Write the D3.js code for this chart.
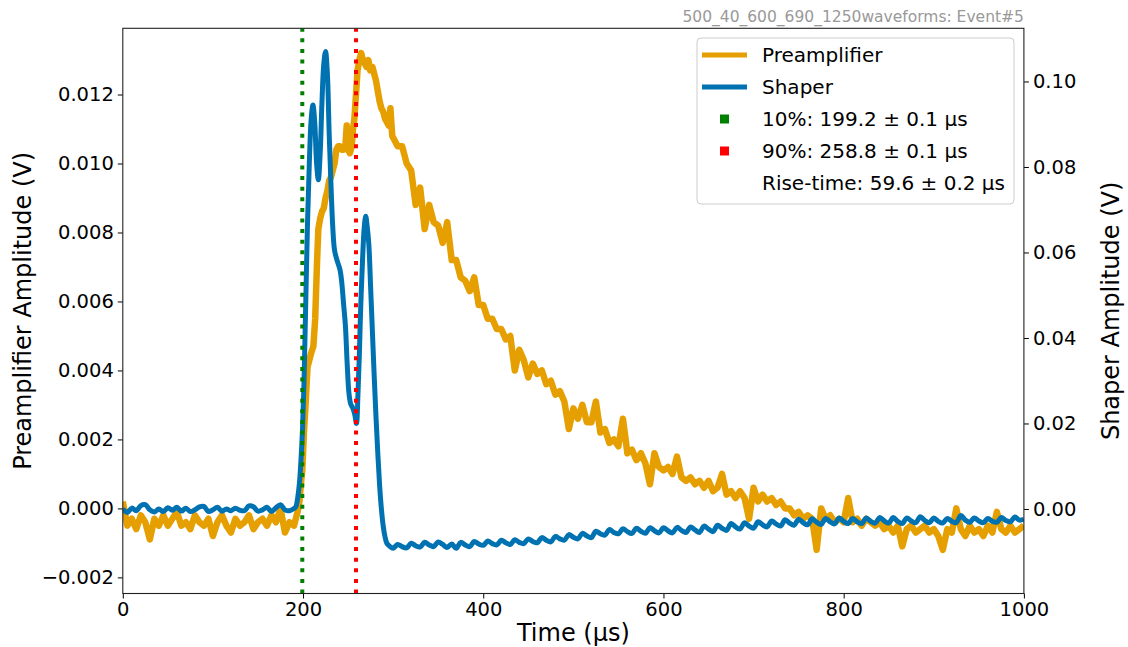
<!DOCTYPE html>
<html>
<head>
<meta charset="utf-8">
<script src="https://cdn.jsdelivr.net/npm/d3@7"></script>
<style>
  body { margin: 0; background: #fff; }
  svg { display: block; }
  text { font-family: "DejaVu Sans", sans-serif; }
</style>
</head>
<body>
<svg id="chart" width="1128" height="647"></svg>
<script>
// ---- waveform data (time in µs, amplitude in V) ----
// Preamplifier baseline before the pulse, sampled every 5 µs from t = 0
const preampPreStart = 0, preampPreStep = 5;
const preampPre = [0.0002, -0.0005, -0.0003, -0.0006, -0.0002, -0.0004, -0.0009, -0.0003, -0.0005, -0.0002,
  -0.0005, -0.0003, -0.0001, -0.0005, -0.0004, -0.0006, -0.0002, -0.0004, -0.0005, -0.0003,
  -0.0008, -0.0004, -0.0002, -0.0005, -0.0007, -0.0003, -0.0005, -0.0004, -0.0002, -0.0006,
  -0.0004, -0.0003, -0.0005, -0.0002, -0.0004, 0.0000, -0.0007, -0.0004, -0.0005];

// Preamplifier rising edge
const preampPulseTime = [192, 194, 196, 198, 199.2, 201, 203, 205, 207, 209, 211.5, 213.5, 215.5, 217, 219, 221, 223,
  225, 227, 229, 231, 233, 235, 237, 239, 241, 243, 245, 247, 248.5, 250, 252, 254, 255.5, 257, 258.8, 260.5,
  262.5, 264.5, 266.5, 268.5, 270.5, 272.5, 274.5, 277, 279, 281, 283, 285, 287, 289, 291, 293, 295, 297,
  299, 301, 303, 305];
const preampPulse = [-0.0003, -0.0001, 0.0002, 0.0008, 0.0011, 0.0022, 0.0031, 0.0041, 0.0043, 0.0045, 0.0047,
  0.0055, 0.0071, 0.0081, 0.0084, 0.0086, 0.0087, 0.0090, 0.0092, 0.0095, 0.0096, 0.0098, 0.0100, 0.0104,
  0.0105, 0.0105, 0.0104, 0.0104, 0.0105, 0.0111, 0.0104, 0.0103, 0.0105, 0.0110, 0.0113, 0.0120, 0.0127,
  0.0130, 0.0132, 0.0130, 0.0129, 0.0128, 0.0130, 0.0127, 0.0128, 0.0126, 0.0124, 0.0121, 0.0118, 0.0116,
  0.0115, 0.0113, 0.0112, 0.0111, 0.0116, 0.0108, 0.0107, 0.0106, 0.0105];

// Preamplifier decay tail, sampled every 5 µs from t = 310
const preampPostStart = 310, preampPostStep = 5;
const preampPost = [0.0105, 0.0100, 0.0098, 0.0088, 0.0093, 0.0081, 0.0088, 0.0083, 0.0082, 0.0077,
  0.0083, 0.0072, 0.0072, 0.0067, 0.0066, 0.0063, 0.0067, 0.0059, 0.0059, 0.0055,
  0.0055, 0.0052, 0.0052, 0.0049, 0.0050, 0.0040, 0.0046, 0.0043, 0.0038, 0.0042,
  0.0039, 0.0040, 0.0036, 0.0037, 0.0033, 0.0034, 0.0031, 0.0023, 0.0029, 0.0026,
  0.0030, 0.0025, 0.0025, 0.0031, 0.0022, 0.0023, 0.0019, 0.0020, 0.0018, 0.0026,
  0.0016, 0.0017, 0.0014, 0.0016, 0.0013, 0.0007, 0.0016, 0.0012, 0.0011, 0.0012,
  0.0010, 0.0015, 0.0009, 0.0008, 0.0009, 0.0007, 0.0008, 0.0006, 0.0008, 0.0005,
  0.0006, 0.0010, 0.0004, 0.0005, 0.0003, 0.0005, 0.0003, -0.0003, 0.0006, 0.0002,
  0.0004, 0.0002, 0.0003, 0.0001, 0.0002, 0.0000, 0.0000, -0.0002, -0.0001, -0.0003,
  -0.0002, -0.0003, -0.0012, 0.0000, -0.0003, -0.0002, -0.0004, -0.0003, -0.0004, 0.0003,
  -0.0004, -0.0003, -0.0005, -0.0003, -0.0004, -0.0005, -0.0004, -0.0006, -0.0005, -0.0007,
  -0.0005, -0.0011, -0.0006, -0.0005, -0.0007, -0.0006, -0.0005, -0.0007, -0.0006, -0.0008,
  -0.0012, -0.0006, -0.0007, 0.0000, -0.0006, -0.0008, -0.0005, -0.0007, -0.0006, -0.0008,
  -0.0005, -0.0007, -0.0001, -0.0006, -0.0007, -0.0005, -0.0007, -0.0006, -0.0005];

// Shaper baseline before the pulse, sampled every 5 µs from t = 0
const shaperPreStart = 0, shaperPreStep = 5;
const shaperPre = [0.0000, -0.0008, 0.0002, -0.0004, 0.0008, 0.0010, -0.0002, -0.0007, 0.0000, -0.0006,
  0.0003, -0.0003, 0.0004, -0.0005, 0.0002, -0.0006, -0.0002, 0.0005, 0.0006, -0.0006,
  -0.0002, 0.0004, -0.0005, 0.0000, -0.0004, 0.0002, -0.0003, -0.0004, 0.0007, 0.0005,
  -0.0005, -0.0002, 0.0004, -0.0006, 0.0003, 0.0010, -0.0002, -0.0004, 0.0001];

// Shaper pulse
const shaperPulseTime = [192, 194, 196, 198, 199.5, 201, 203, 205, 207, 209, 211, 213, 215, 217, 219, 221, 223,
  225, 227, 229, 231, 233, 235, 238, 241, 243, 245, 247, 249, 251, 253, 255.5, 257.5, 259.3, 261, 262.5,
  264, 266, 268, 269.6, 271, 273, 275, 277, 279, 281, 283, 285, 287, 289, 291, 293, 296];
const shaperPulse = [0.0005, 0.0025, 0.0060, 0.0125, 0.0190, 0.0290, 0.0480, 0.0670, 0.0810, 0.0910, 0.0945,
  0.0905, 0.0810, 0.0770, 0.0830, 0.0950, 0.1040, 0.1070, 0.1020, 0.0880, 0.0760, 0.0660, 0.0605, 0.0580,
  0.0560, 0.0530, 0.0480, 0.0430, 0.0340, 0.0270, 0.0245, 0.0235, 0.0220, 0.0200, 0.0270, 0.0360, 0.0470,
  0.0580, 0.0660, 0.0685, 0.0665, 0.0620, 0.0520, 0.0415, 0.0310, 0.0215, 0.0130, 0.0055, 0.0000, -0.0040,
  -0.0065, -0.0080, -0.0087];

// Shaper undershoot and recovery, sampled every 5 µs from t = 300
const shaperPostStart = 300, shaperPostStep = 5;
const shaperPost = [-0.0092, -0.0083, -0.0088, -0.0091, -0.0080, -0.0086, -0.0089, -0.0078, -0.0084, -0.0088,
  -0.0077, -0.0083, -0.0090, -0.0082, -0.0092, -0.0078, -0.0084, -0.0088, -0.0076, -0.0082,
  -0.0085, -0.0075, -0.0081, -0.0084, -0.0073, -0.0079, -0.0083, -0.0072, -0.0078, -0.0081,
  -0.0070, -0.0076, -0.0079, -0.0067, -0.0073, -0.0077, -0.0064, -0.0070, -0.0073, -0.0060,
  -0.0066, -0.0070, -0.0057, -0.0063, -0.0067, -0.0052, -0.0058, -0.0061, -0.0048, -0.0055,
  -0.0058, -0.0046, -0.0053, -0.0057, -0.0045, -0.0052, -0.0057, -0.0044, -0.0051, -0.0056,
  -0.0044, -0.0051, -0.0056, -0.0043, -0.0050, -0.0055, -0.0042, -0.0049, -0.0055, -0.0040,
  -0.0047, -0.0053, -0.0038, -0.0045, -0.0050, -0.0034, -0.0042, -0.0047, -0.0032, -0.0040,
  -0.0045, -0.0030, -0.0037, -0.0042, -0.0028, -0.0035, -0.0040, -0.0025, -0.0033, -0.0038,
  -0.0024, -0.0032, -0.0037, -0.0023, -0.0031, -0.0036, -0.0022, -0.0030, -0.0035, -0.0021,
  -0.0029, -0.0034, -0.0022, -0.0030, -0.0034, -0.0021, -0.0029, -0.0033, -0.0020, -0.0028,
  -0.0033, -0.0020, -0.0029, -0.0034, -0.0021, -0.0028, -0.0032, -0.0018, -0.0027, -0.0032,
  -0.0021, -0.0029, -0.0033, -0.0022, -0.0029, -0.0032, -0.0015, -0.0026, -0.0031, -0.0021,
  -0.0028, -0.0032, -0.0022, -0.0029, -0.0031, -0.0020, -0.0027, -0.0030, -0.0019, -0.0026,
  -0.0024];

// 10 % / 90 % crossing times
const markerTimes = [199.2, 258.8];
const markerColors = ["#008000", "#ff0000"];

// legend entries
const legendLabels = ["Preamplifier", "Shaper", "10%: 199.2 \u00b1 0.1 \u00b5s", "90%: 258.8 \u00b1 0.1 \u00b5s", "Rise-time: 59.6 \u00b1 0.2 \u00b5s"];

// axis ticks
const timeTicks = [0, 200, 400, 600, 800, 1000];
const preampTicks = [-0.002, 0, 0.002, 0.004, 0.006, 0.008, 0.010, 0.012];
const shaperTicks = [0, 0.02, 0.04, 0.06, 0.08, 0.10];

const titleText = "500_40_600_690_1250waveforms: Event#5";

// ---- assemble series ----
function uniform(start, step, values) {
  return values.map((v, i) => ({ t: start + i * step, v }));
}
function paired(times, values) {
  return times.map((t, i) => ({ t, v: values[i] }));
}
const preampSeries = [
  ...uniform(preampPreStart, preampPreStep, preampPre),
  ...paired(preampPulseTime, preampPulse),
  ...uniform(preampPostStart, preampPostStep, preampPost)
];
const shaperSeries = [
  ...uniform(shaperPreStart, shaperPreStep, shaperPre),
  ...paired(shaperPulseTime, shaperPulse),
  ...uniform(shaperPostStart, shaperPostStep, shaperPost)
];

// ---- layout ----
const plot = { left: 122.8, right: 1023.9, top: 28.3, bottom: 593.5 };
const ORANGE = "#E69F00", BLUE = "#0072B2";
const FS_TICK = 19.5, FS_LABEL = 24, FS_LEGEND = 20;

const svg = d3.select("#chart");

const x = d3.scaleLinear().domain([0, 1000]).range([plot.left, plot.right]);
const yL = d3.scaleLinear().domain([-0.002467, 0.01392]).range([plot.bottom, plot.top]);
const yR = d3.scaleLinear().domain([-0.01977, 0.11244]).range([plot.bottom, plot.top]);

svg.append("defs").append("clipPath").attr("id", "plotClip")
  .append("rect")
  .attr("x", plot.left).attr("y", plot.top)
  .attr("width", plot.right - plot.left).attr("height", plot.bottom - plot.top);

const layer = svg.append("g").attr("clip-path", "url(#plotClip)");

const preampLine = d3.line().x(d => x(d.t)).y(d => yL(d.v));
const shaperLine = d3.line().x(d => x(d.t)).y(d => yR(d.v)).curve(d3.curveCatmullRom.alpha(0.5));

// the noisy preamp trace reads as a heavier band than the smooth shaper
layer.append("path").datum(preampSeries)
  .attr("d", preampLine)
  .attr("fill", "none").attr("stroke", ORANGE).attr("stroke-width", 6.5)
  .attr("stroke-linejoin", "round");

layer.append("path").datum(shaperSeries)
  .attr("d", shaperLine)
  .attr("fill", "none").attr("stroke", BLUE).attr("stroke-width", 5)
  .attr("stroke-linejoin", "round");

// dotted vertical markers
layer.selectAll("line.marker").data(markerTimes).join("line")
  .attr("class", "marker")
  .attr("x1", d => x(d)).attr("x2", d => x(d))
  .attr("y1", plot.bottom).attr("y2", plot.top)
  .attr("stroke", (d, i) => markerColors[i])
  .attr("stroke-width", 4)
  .attr("stroke-dasharray", "4,6.6");

// ---- axes ----
const minus = s => s.replace("-", "\u2212");

const xAxis = svg.append("g").attr("transform", `translate(0,${plot.bottom})`)
  .call(d3.axisBottom(x).tickValues(timeTicks).tickFormat(d3.format("d")).tickSize(5).tickPadding(4));
const yAxisL = svg.append("g").attr("transform", `translate(${plot.left},0)`)
  .call(d3.axisLeft(yL).tickValues(preampTicks).tickFormat(d => minus(d.toFixed(3))).tickSize(5).tickPadding(4));
const yAxisR = svg.append("g").attr("transform", `translate(${plot.right},0)`)
  .call(d3.axisRight(yR).tickValues(shaperTicks).tickFormat(d => d.toFixed(2)).tickSize(5).tickPadding(4));

[xAxis, yAxisL, yAxisR].forEach(a => {
  a.select(".domain").remove();
  a.selectAll(".tick line").attr("stroke", "#000").attr("stroke-width", 1);
  a.selectAll(".tick text").attr("font-size", FS_TICK).attr("fill", "#000")
    .attr("font-family", "DejaVu Sans, sans-serif");
});

// frame
svg.append("rect")
  .attr("x", plot.left).attr("y", plot.top)
  .attr("width", plot.right - plot.left).attr("height", plot.bottom - plot.top)
  .attr("fill", "none").attr("stroke", "#222").attr("stroke-width", 1.1);

// axis labels
svg.append("text")
  .attr("x", (plot.left + plot.right) / 2).attr("y", 641)
  .attr("text-anchor", "middle").attr("font-size", FS_LABEL)
  .text("Time (\u00b5s)");

svg.append("text")
  .attr("transform", `translate(31,${(plot.top + plot.bottom) / 2}) rotate(-90)`)
  .attr("text-anchor", "middle").attr("font-size", FS_LABEL)
  .text("Preamplifier Amplitude (V)");

svg.append("text")
  .attr("transform", `translate(1119,${(plot.top + plot.bottom) / 2}) rotate(-90)`)
  .attr("text-anchor", "middle").attr("font-size", FS_LABEL)
  .text("Shaper Amplitude (V)");

// title
svg.append("text")
  .attr("x", plot.right).attr("y", 22)
  .attr("text-anchor", "end").attr("font-size", 15.5).attr("fill", "#999")
  .text(titleText);

// ---- legend ----
const legend = svg.append("g").attr("transform", "translate(697,38)");
legend.append("rect")
  .attr("x", 0).attr("y", 0).attr("width", 317).attr("height", 166)
  .attr("rx", 4).attr("ry", 4)
  .attr("fill", "#fff").attr("fill-opacity", 0.8)
  .attr("stroke", "#ccc").attr("stroke-width", 1);

const rowY = i => 17 + i * 32;
const swatch = [
  { kind: "line", color: ORANGE },
  { kind: "line", color: BLUE },
  { kind: "square", color: markerColors[0] },
  { kind: "square", color: markerColors[1] },
  { kind: "none" }
];
legendLabels.forEach((label, i) => {
  const row = legend.append("g").attr("transform", `translate(0,${rowY(i)})`);
  const s = swatch[i];
  if (s.kind === "line") {
    row.append("line").attr("x1", 5).attr("x2", 50).attr("y1", 0).attr("y2", 0)
      .attr("stroke", s.color).attr("stroke-width", 5);
  } else if (s.kind === "square") {
    row.append("rect").attr("x", 23).attr("y", -4.5).attr("width", 9).attr("height", 9)
      .attr("fill", s.color);
  }
  row.append("text").attr("x", 65).attr("y", 7.2)
    .attr("font-size", FS_LEGEND).attr("fill", "#000")
    .text(label);
});
</script>
</body>
</html>
